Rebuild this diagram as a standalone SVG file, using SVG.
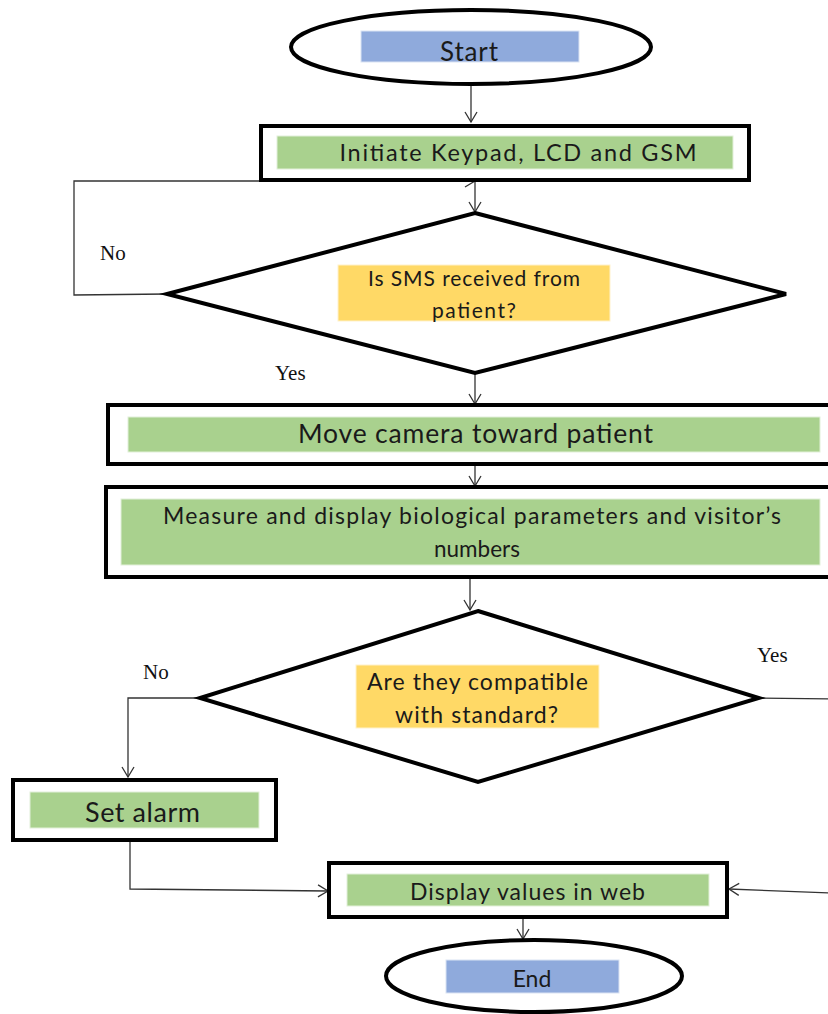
<svg xmlns="http://www.w3.org/2000/svg" width="828" height="1014" viewBox="0 0 828 1014">
<style>
.frame{fill:#fff;stroke:#000;stroke-width:4}
.green{fill:#a9d18e;stroke:#e2f0d9;stroke-width:1}
.blue{fill:#8faadc;stroke:#dae3f3;stroke-width:1}
.yellow{fill:#ffd966;stroke:#fff2cc;stroke-width:1}
.t{font-family:Lato,"Liberation Sans",sans-serif;fill:#1a1a1a;text-anchor:middle}
.lbl{font-family:"Liberation Serif",serif;font-size:21px;fill:#111}
.c{fill:none;stroke:#333;stroke-width:1.3}
</style>
<defs>
<marker id="ah" markerUnits="userSpaceOnUse" markerWidth="14" markerHeight="14" refX="11" refY="7" orient="auto">
<path d="M1,1 L11,7 L1,13" fill="none" stroke="#333" stroke-width="1.3"/>
</marker>
</defs>
<g id="connectors">
<line class="c" x1="471" y1="84" x2="471" y2="122" marker-end="url(#ah)"/>
<line class="c" x1="475" y1="181" x2="475" y2="212" marker-end="url(#ah)"/>
<polyline class="c" points="167,294 74,295 74,181 475,181" marker-end="url(#ah)"/>
<line class="c" x1="475" y1="374" x2="475" y2="404" marker-end="url(#ah)"/>
<line class="c" x1="475" y1="465" x2="475" y2="486" marker-end="url(#ah)"/>
<line class="c" x1="470" y1="579" x2="470" y2="610" marker-end="url(#ah)"/>
<polyline class="c" points="200,698 128,698 128,777" marker-end="url(#ah)"/>
<line class="c" x1="758" y1="698" x2="830" y2="699"/>
<polyline class="c" points="130,840 130,889 328,891" marker-end="url(#ah)"/>
<line class="c" x1="830" y1="893" x2="729" y2="889" marker-end="url(#ah)"/>
<line class="c" x1="523" y1="918" x2="523" y2="939" marker-end="url(#ah)"/>
</g>
<g id="start">
<ellipse class="frame" cx="471" cy="47" rx="180" ry="37" stroke-width="3.5"/>
<rect class="blue" x="361" y="31" width="218" height="31"/>
<text class="t" x="469" y="61" font-size="26" textLength="58" lengthAdjust="spacing">Start</text>
</g>
<g id="init">
<rect class="frame" x="261" y="126" width="488" height="54"/>
<rect class="green" x="277" y="136" width="456" height="33"/>
<text class="t" x="518" y="161" font-size="23.5" textLength="357" lengthAdjust="spacing">Initiate Keypad,  LCD and GSM</text>
</g>
<g id="sms">
<polygon class="frame" points="475,213 786,294 475,373 167,294" stroke-width="3.5"/>
<rect class="yellow" x="338" y="265" width="272" height="56"/>
<text class="t" x="474" y="286" font-size="21" textLength="212" lengthAdjust="spacing">Is SMS received from</text>
<text class="t" x="474" y="318" font-size="21" textLength="84" lengthAdjust="spacing">patient?</text>
</g>
<text class="lbl" x="100" y="260">No</text>
<text class="lbl" x="275" y="380">Yes</text>
<g id="camera">
<rect class="frame" x="108" y="405" width="724" height="59"/>
<rect class="green" x="128" y="417" width="692" height="35"/>
<text class="t" x="475.5" y="443" font-size="26.5" textLength="355" lengthAdjust="spacing">Move camera toward patient</text>
</g>
<g id="measure">
<rect class="frame" x="106" y="487" width="726" height="90"/>
<rect class="green" x="121" y="499" width="699" height="66"/>
<text class="t" x="472" y="524" font-size="23" textLength="618" lengthAdjust="spacing">Measure  and display biological parameters  and visitor’s</text>
<text class="t" x="477" y="557" font-size="22.5">numbers</text>
</g>
<g id="compat">
<polygon class="frame" points="478,611 759,698 478,782 200,698" stroke-width="3.5"/>
<rect class="yellow" x="356" y="665" width="243" height="63"/>
<text class="t" x="477.5" y="690" font-size="23" textLength="221" lengthAdjust="spacing">Are they compatible</text>
<text class="t" x="476.5" y="723" font-size="23" textLength="163" lengthAdjust="spacing">with standard?</text>
</g>
<text class="lbl" x="143" y="679">No</text>
<text class="lbl" x="757" y="662">Yes</text>
<g id="alarm">
<rect class="frame" x="13" y="780" width="263" height="60"/>
<rect class="green" x="30" y="792" width="229" height="36"/>
<text class="t" x="142.5" y="822" font-size="27" textLength="115" lengthAdjust="spacing">Set alarm</text>
</g>
<g id="display">
<rect class="frame" x="329" y="863" width="398" height="54"/>
<rect class="green" x="347" y="874" width="362" height="32"/>
<text class="t" x="527.5" y="900" font-size="23" textLength="235" lengthAdjust="spacing">Display values in web</text>
</g>
<g id="end">
<ellipse class="frame" cx="534" cy="976" rx="148" ry="36" stroke-width="3.5"/>
<rect class="blue" x="446" y="960" width="173" height="33"/>
<text class="t" x="532" y="987" font-size="23">End</text>
</g>
</svg>
